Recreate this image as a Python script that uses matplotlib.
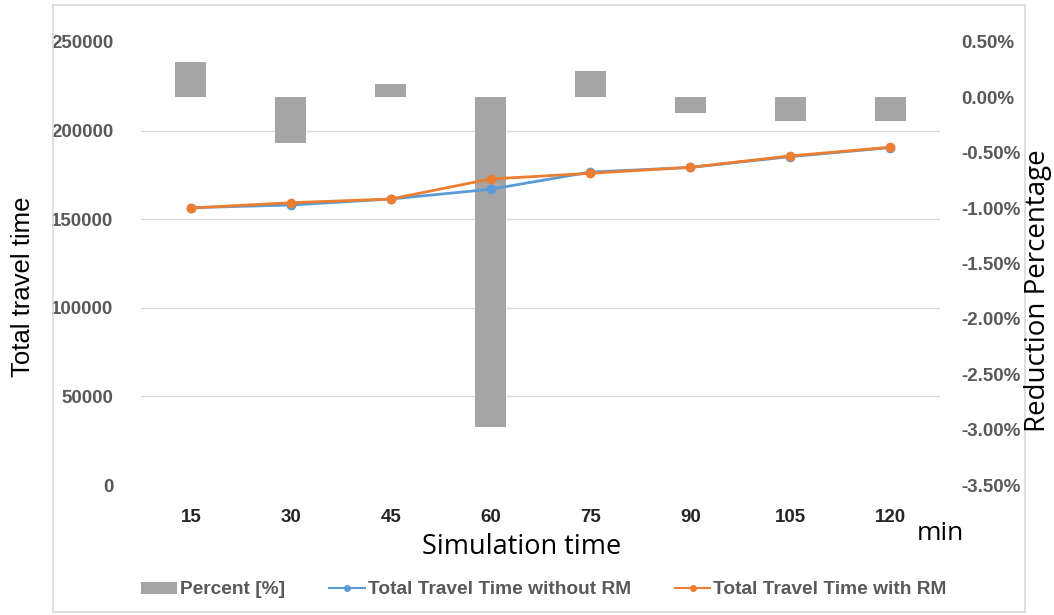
import matplotlib
matplotlib.use("Agg")
import matplotlib.pyplot as plt
from matplotlib.ticker import FixedLocator, FuncFormatter
from matplotlib.patches import Rectangle
import numpy as np

categories = ["15", "30", "45", "60", "75", "90", "105", "120"]
percent = [0.32, -0.41, 0.12, -2.98, 0.24, -0.14, -0.21, -0.21]
ttt_without_rm = [156500, 158000, 161400, 166900, 176600, 179200, 185300, 190400]
ttt_with_rm = [156300, 159300, 161400, 172700, 175900, 179300, 185700, 190600]

left_ticks = [0, 50000, 100000, 150000, 200000, 250000]
right_ticks = [0.5, 0.0, -0.5, -1.0, -1.5, -2.0, -2.5, -3.0, -3.5]

W, H = 1054, 615
fig = plt.figure(figsize=(W / 100, H / 100), dpi=100)
fig.patch.set_facecolor("white")
fig.add_artist(Rectangle((53 / W, 1 - 612 / H), (1025 - 53) / W, (612 - 5) / H,
                         transform=fig.transFigure, fill=False,
                         edgecolor="#d9d9d9", linewidth=1.2))

x0, x1, ytop, ybot = 141, 940, 42, 485
rect = [x0 / W, 1 - ybot / H, (x1 - x0) / W, (ybot - ytop) / H]

tick_color = "#595959"
xtick_color = "#262626"
grid_color = "#d9d9d9"
tfont = ["Liberation Sans", "DejaVu Sans"]
tsize = 13.5

axb = fig.add_axes(rect)
axl = fig.add_axes(rect, sharex=axb)
axl.patch.set_visible(False)

x = np.arange(len(categories))
pmin, pmax = -3.5, 0.5
lmin, lmax = 0, 250000

axb.bar(x, percent, width=0.31, color="#a5a5a5", zorder=3, label="Percent [%]")
axb.set_ylim(pmin, pmax)
axb.set_xlim(-0.5, len(categories) - 0.5)
grid_pos = [pmin + (t - lmin) / (lmax - lmin) * (pmax - pmin) for t in left_ticks]
axb.yaxis.set_minor_locator(FixedLocator(grid_pos))
axb.yaxis.set_major_locator(FixedLocator(right_ticks))
axb.yaxis.set_major_formatter(FuncFormatter(lambda v, p: f"{v:.2f}%"))
axb.grid(which="minor", axis="y", color=grid_color, linewidth=1.0, zorder=0)
axb.yaxis.tick_right()
axb.tick_params(axis="y", which="both", length=0, pad=15, labelcolor=tick_color)
axb.tick_params(axis="x", length=0, pad=17, labelcolor=xtick_color)
axb.set_xticks(x)
axb.set_xticklabels(categories)
for lab in axb.get_yticklabels() + axb.get_xticklabels():
    lab.set_fontweight("bold")
    lab.set_family(tfont)
    lab.set_fontsize(tsize)
for s in axb.spines.values():
    s.set_visible(False)

axl.plot(x, ttt_without_rm, color="#5b9bd5", linewidth=2.0, marker="o",
         markersize=6, label="Total Travel Time without RM", zorder=4)
axl.plot(x, ttt_with_rm, color="#ed7d31", linewidth=2.0, marker="o",
         markersize=6, label="Total Travel Time with RM", zorder=5)
axl.set_ylim(lmin, lmax)
axl.set_yticks(left_ticks)
axl.set_yticklabels([str(t) for t in left_ticks])
for lab in axl.get_yticklabels():
    lab.set_fontweight("bold")
    lab.set_family(tfont)
    lab.set_fontsize(tsize)
axl.yaxis.tick_left()
axl.tick_params(axis="y", length=0, pad=20, labelcolor=tick_color)
axl.tick_params(axis="x", length=0, labelbottom=False)
for s in axl.spines.values():
    s.set_visible(False)

fig.text(23 / W, 1 - 287 / H, "Total travel time", rotation=90, ha="center",
         va="center", fontsize=18.5, family="Liberation Sans")
fig.text(1038 / W, 1 - 291 / H, "Reduction Percentage", rotation=90, ha="center",
         va="center", fontsize=20, family="Open Sans")
fig.text(522 / W, 1 - 547 / H, "Simulation time", ha="center", va="center",
         fontsize=19.5, family="Open Sans")
fig.text(940 / W, 1 - 533 / H, "min", ha="center", va="center",
         fontsize=19, family="Open Sans")

h1, l1 = axb.get_legend_handles_labels()
h2, l2 = axl.get_legend_handles_labels()
leg = fig.legend(h1 + h2, l1 + l2, loc="center", ncol=3,
                 bbox_to_anchor=(544 / W, 1 - 590 / H), frameon=False,
                 prop={"size": 13.8, "family": tfont, "weight": "bold"},
                 handlelength=1.85, handleheight=0.6, handletextpad=0.16,
                 columnspacing=2.3)
for t in leg.get_texts():
    t.set_color(tick_color)
for h in leg.legend_handles[1:]:
    h.set_markersize(4)
    h.set_linewidth(1.5)

fig.savefig("out.png", dpi=100)
